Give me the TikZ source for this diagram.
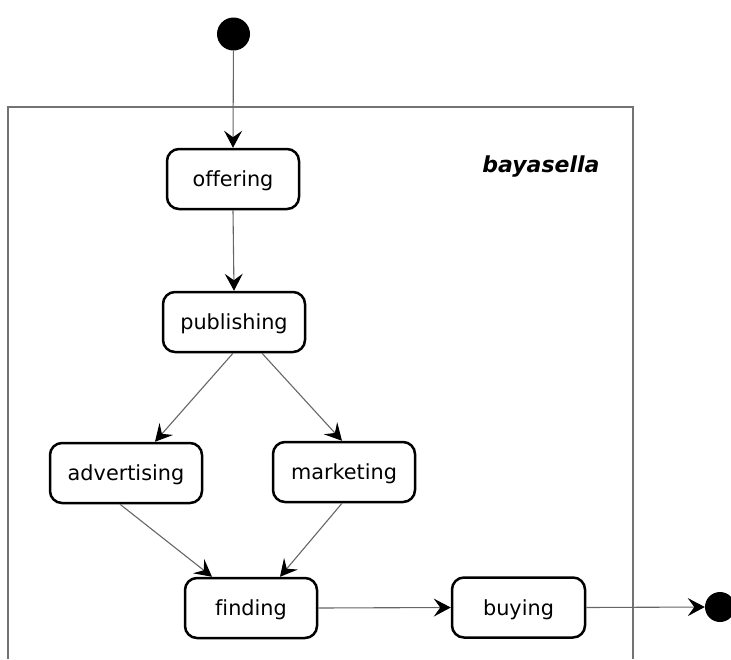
\documentclass[tikz,border=0pt]{standalone}
\usepackage{fontspec}
\setmainfont[Ligatures=NoCommon]{DejaVu Sans}
\usetikzlibrary{arrows.meta}
\begin{document}
\begin{tikzpicture}[x=1pt,y=-1pt,
  state/.style={draw=black, line width=2.5pt, rounded corners=12pt, fill=white,
    minimum height=60pt, inner sep=0pt, text depth=0pt, text height=15pt,
    font=\fontsize{20.8}{24}\selectfont},
  pseudo/.style={circle, fill=black, inner sep=0pt, minimum size=#1},
  flow/.style={draw=black!60, line width=1.1pt,
    -{Stealth[length=17pt, width=18pt, inset=6.5pt, fill=black, color=black]}},
  frame/.style={draw=black!55, line width=1.1pt}]
\useasboundingbox (0,0) rectangle (731,659);

% enclosing composite state
\draw[frame] (8,659) -- (8,107) -- (633,107) -- (633,659);
\node[anchor=base east, font=\fontsize{22}{25}\selectfont\bfseries\itshape] (title) at (603,172) {bayasella};

% states
\node[pseudo=33pt] (start) at (233.5,34) {};
\node[state, minimum width=132pt] (offering) at (233,179) {offering};
\node[state, minimum width=142pt] (publishing) at (234,322) {publishing};
\node[state, minimum width=152pt] (advertising) at (126,473) {advertising};
\node[state, minimum width=142pt] (marketing) at (344,472) {marketing};
\node[state, minimum width=132pt] (finding) at (251,608) {finding};
\node[state, minimum width=133pt] (buying) at (518.5,607.5) {buying};
\node[pseudo=30pt] (end) at (720,607) {};

% transitions
\draw[flow] (start) -- (offering.north);
\draw[flow] (offering.south) -- (publishing.north);
\draw[flow] ([xshift=-1pt]publishing.south) -- ([xshift=29pt]advertising.north);
\draw[flow] ([xshift=28pt]publishing.south) -- ([xshift=-2pt]marketing.north);
\draw[flow] ([xshift=-6pt]advertising.south) -- ([xshift=-39pt]finding.north);
\draw[flow] ([xshift=-2pt]marketing.south) -- ([xshift=29pt]finding.north);
\draw[flow] (finding.east) -- (buying.west);
\draw[flow] (buying.east) -- (end.west);
\end{tikzpicture}
\end{document}
